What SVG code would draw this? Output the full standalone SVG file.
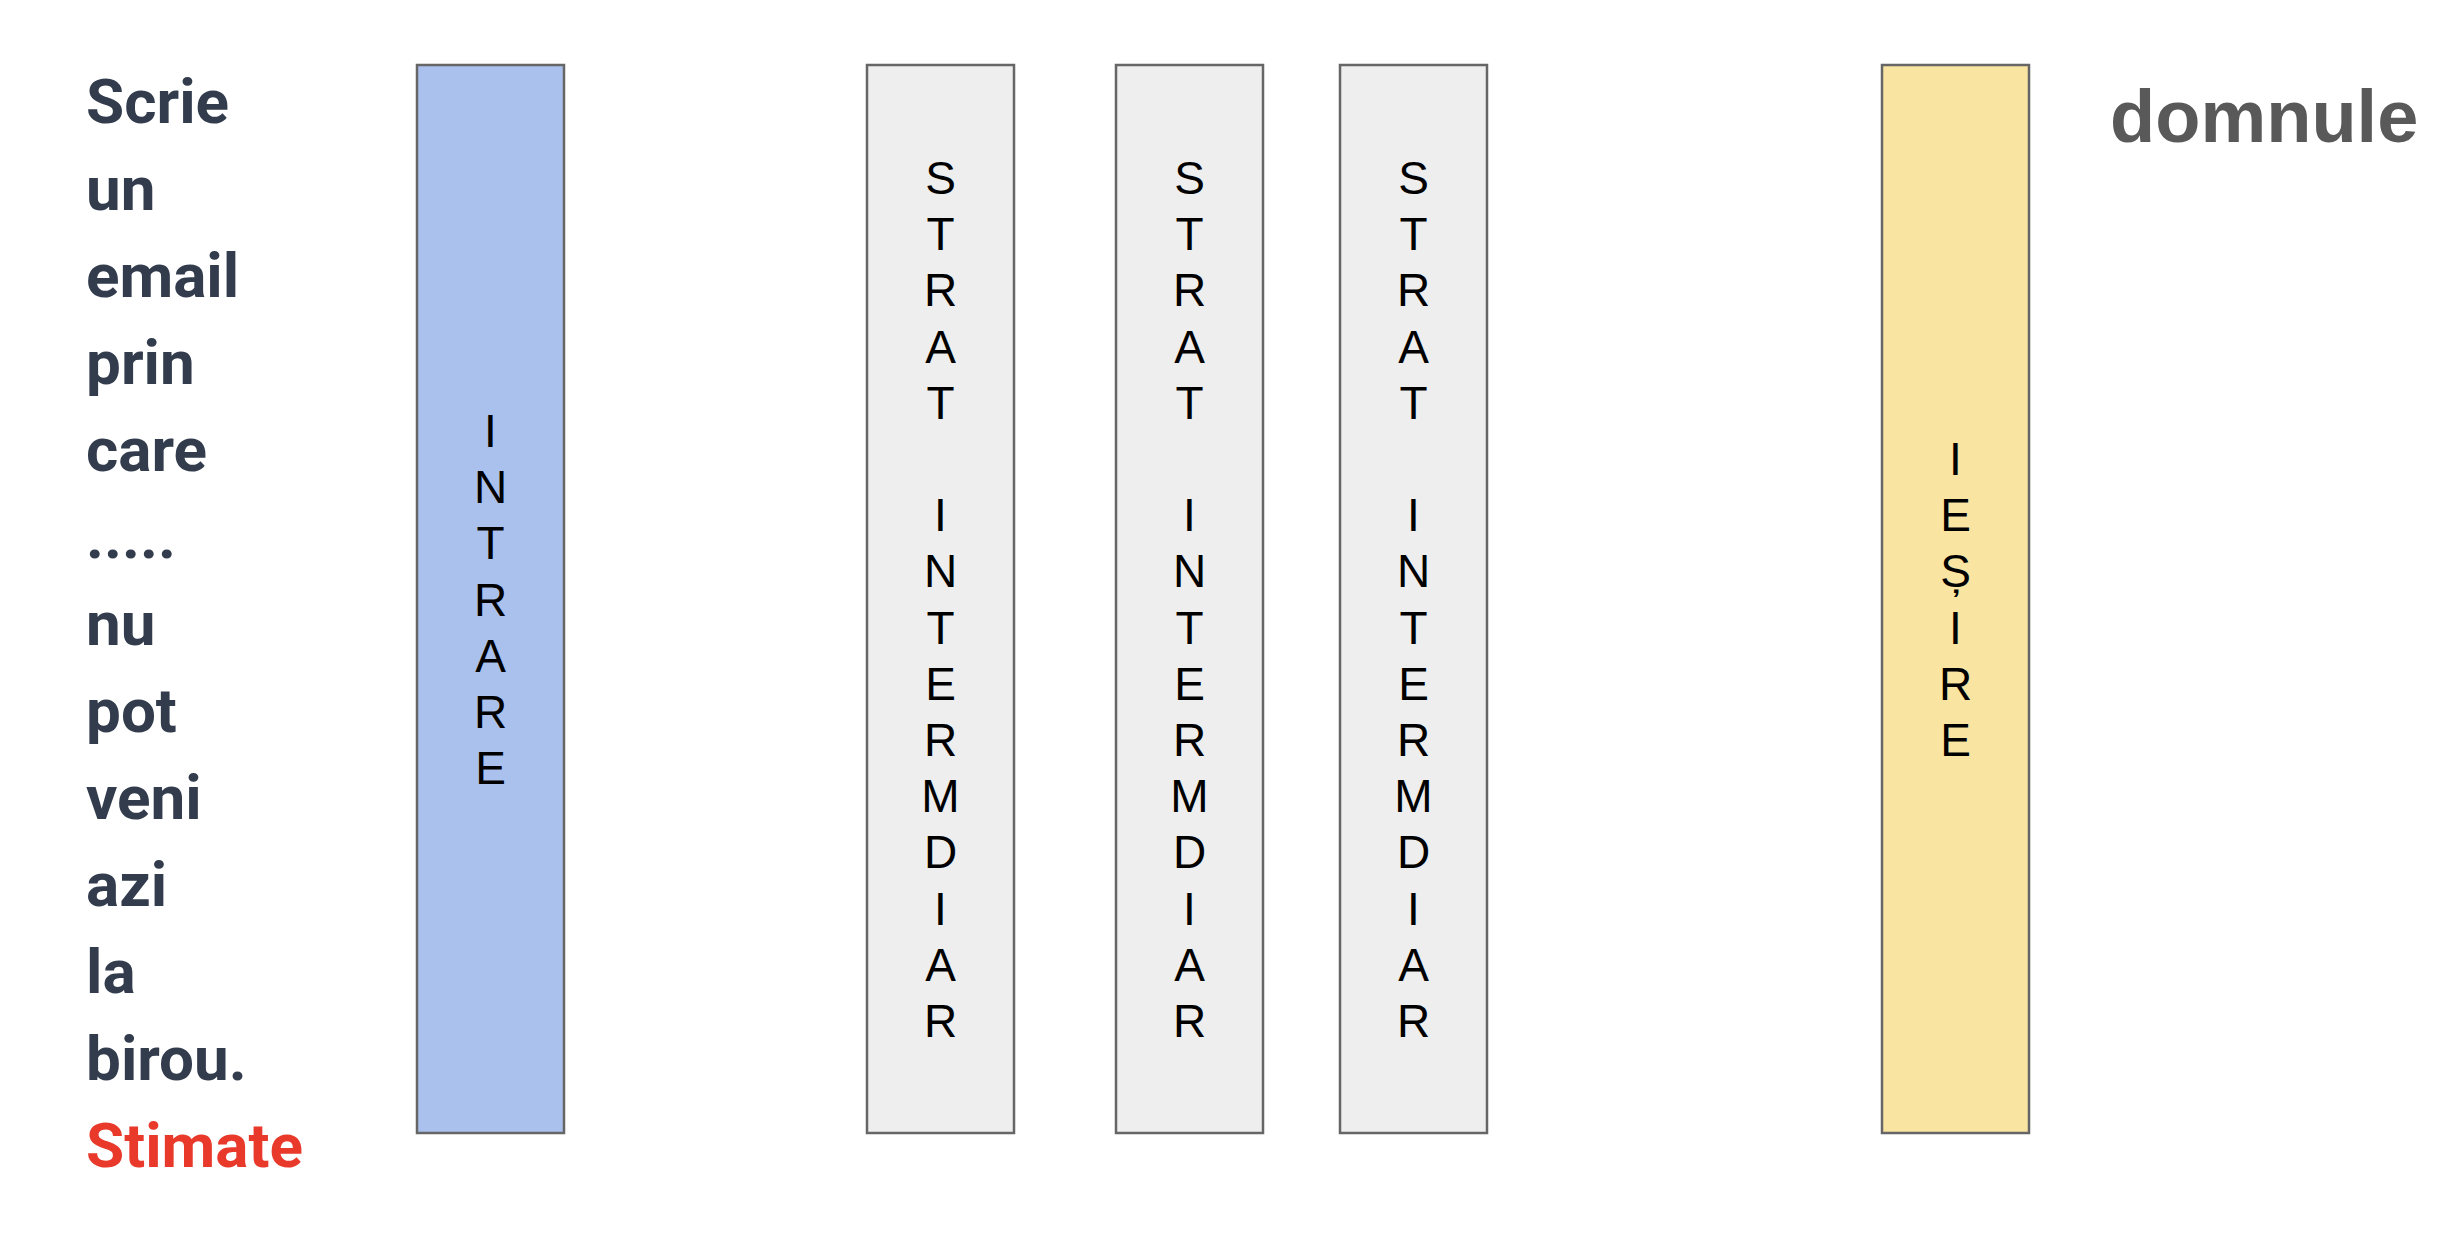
<svg xmlns="http://www.w3.org/2000/svg" width="2450" height="1250" viewBox="0 0 2450 1250">
<style>
.box{stroke:#666666;stroke-width:2.5}
.in{fill:#aac1ee}
.mid{fill:#eeeeee}
.out{fill:#fae4a2}
.lbl{font-family:"Liberation Sans",Arial,sans-serif;font-size:46px;fill:#000000;text-anchor:middle}
.words{font-family:Roboto,"Noto Sans",sans-serif;font-weight:bold;font-size:62px;fill:#323c4c}
.red{fill:#e8392b}
.dom{font-family:"Liberation Sans",Arial,sans-serif;font-weight:bold;font-size:74px;fill:#595959}
</style>
<rect width="2450" height="1250" fill="#ffffff"/>
<g id="prompt">
<text class="words" x="86" y="123">Scrie</text>
<text class="words" x="86" y="210">un</text>
<text class="words" x="86" y="297">email</text>
<text class="words" x="86" y="384">prin</text>
<text class="words" x="86" y="471">care</text>
<text class="words" x="86" y="558">.....</text>
<text class="words" x="86" y="645">nu</text>
<text class="words" x="86" y="732">pot</text>
<text class="words" x="86" y="819">veni</text>
<text class="words" x="86" y="906">azi</text>
<text class="words" x="86" y="993">la</text>
<text class="words" x="86" y="1080">birou.</text>
<text class="words red" x="86" y="1167">Stimate</text>
</g>
<g id="intrare">
<rect class="box in" x="417" y="65" width="147" height="1068"/>
<text class="lbl">
<tspan x="490.5" y="447">I</tspan><tspan x="490.5" y="503">N</tspan><tspan x="490.5" y="559">T</tspan><tspan x="490.5" y="616">R</tspan><tspan x="490.5" y="672">A</tspan><tspan x="490.5" y="728">R</tspan><tspan x="490.5" y="784">E</tspan>
</text>
</g>
<g id="strat1">
<rect class="box mid" x="867" y="65" width="147" height="1068"/>
<text class="lbl">
<tspan x="940.5" y="194">S</tspan><tspan x="940.5" y="250">T</tspan><tspan x="940.5" y="306">R</tspan><tspan x="940.5" y="363">A</tspan><tspan x="940.5" y="419">T</tspan><tspan x="940.5" y="531">I</tspan><tspan x="940.5" y="587">N</tspan><tspan x="940.5" y="644">T</tspan><tspan x="940.5" y="700">E</tspan><tspan x="940.5" y="756">R</tspan><tspan x="940.5" y="812">M</tspan><tspan x="940.5" y="868">D</tspan><tspan x="940.5" y="925">I</tspan><tspan x="940.5" y="981">A</tspan><tspan x="940.5" y="1037">R</tspan>
</text>
</g>
<g id="strat2">
<rect class="box mid" x="1116" y="65" width="147" height="1068"/>
<text class="lbl">
<tspan x="1189.5" y="194">S</tspan><tspan x="1189.5" y="250">T</tspan><tspan x="1189.5" y="306">R</tspan><tspan x="1189.5" y="363">A</tspan><tspan x="1189.5" y="419">T</tspan><tspan x="1189.5" y="531">I</tspan><tspan x="1189.5" y="587">N</tspan><tspan x="1189.5" y="644">T</tspan><tspan x="1189.5" y="700">E</tspan><tspan x="1189.5" y="756">R</tspan><tspan x="1189.5" y="812">M</tspan><tspan x="1189.5" y="868">D</tspan><tspan x="1189.5" y="925">I</tspan><tspan x="1189.5" y="981">A</tspan><tspan x="1189.5" y="1037">R</tspan>
</text>
</g>
<g id="strat3">
<rect class="box mid" x="1340" y="65" width="147" height="1068"/>
<text class="lbl">
<tspan x="1413.5" y="194">S</tspan><tspan x="1413.5" y="250">T</tspan><tspan x="1413.5" y="306">R</tspan><tspan x="1413.5" y="363">A</tspan><tspan x="1413.5" y="419">T</tspan><tspan x="1413.5" y="531">I</tspan><tspan x="1413.5" y="587">N</tspan><tspan x="1413.5" y="644">T</tspan><tspan x="1413.5" y="700">E</tspan><tspan x="1413.5" y="756">R</tspan><tspan x="1413.5" y="812">M</tspan><tspan x="1413.5" y="868">D</tspan><tspan x="1413.5" y="925">I</tspan><tspan x="1413.5" y="981">A</tspan><tspan x="1413.5" y="1037">R</tspan>
</text>
</g>
<g id="iesire">
<rect class="box out" x="1882" y="65" width="147" height="1068"/>
<text class="lbl">
<tspan x="1955.5" y="475">I</tspan><tspan x="1955.5" y="531">E</tspan><tspan x="1955.5" y="587">Ș</tspan><tspan x="1955.5" y="644">I</tspan><tspan x="1955.5" y="700">R</tspan><tspan x="1955.5" y="756">E</tspan>
</text>
</g>
<g id="output">
<text class="dom" x="2110" y="142">domnule</text>
</g>
<g id="connectors"></g>
</svg>
